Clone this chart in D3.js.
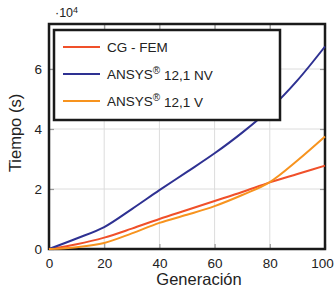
<!DOCTYPE html>
<html>
<head>
  <meta charset="utf-8">
  <script src="https://d3js.org/d3.v7.min.js"></script>
  <style>
    body { margin: 0; background: #fff; }
    text { font-family: "Liberation Sans", Arial, sans-serif; fill: #222; }
  </style>
</head>
<body>
<div id="Grafica"></div>
<script>
  // Datos (tiempo en unidades de 10^4 s)
  const generacion = [0, 10, 20, 30, 40, 50, 60, 70, 80, 90, 100];
  const cgFem   = [0, 0.16, 0.38, 0.68, 1.0, 1.3, 1.6, 1.9, 2.22, 2.5, 2.78];
  const ansysNV = [0, 0.35, 0.73, 1.33, 1.96, 2.57, 3.19, 3.88, 4.66, 5.62, 6.75];
  const ansysV  = [0, 0.06, 0.2, 0.52, 0.87, 1.14, 1.43, 1.8, 2.23, 2.95, 3.75];
  const xTicks = [0, 20, 40, 60, 80, 100];
  const yTicks = [0, 2, 4, 6];

  const series = [
    {name: "CG - FEM", values: cgFem, color: "#f0502a"},
    {name: "ANSYS", sup: "®", rest: " 12,1 NV", values: ansysNV, color: "#2e3192"},
    {name: "ANSYS", sup: "®", rest: " 12,1 V", values: ansysV, color: "#f7931e"}
  ];

  const W = 335, H = 289;
  const margin = {top: 24, right: 10, bottom: 40, left: 49};
  const width = 325 - margin.left;
  const height = 249 - margin.top;

  const x = d3.scaleLinear().domain([0, 100]).range([0, width]);
  const y = d3.scaleLinear().domain([0, 7.5]).range([height, 0]);

  const svg = d3.select("#Grafica").append("svg")
      .attr("width", W).attr("height", H)
      .append("g")
      .attr("transform", `translate(${margin.left}, ${margin.top})`);

  // Rejilla
  svg.append("g").selectAll("line").data(xTicks.slice(1, -1)).join("line")
      .attr("x1", d => x(d)).attr("x2", d => x(d))
      .attr("y1", 0).attr("y2", height)
      .attr("stroke", "#dcdcdc").attr("stroke-width", 1);
  svg.append("g").selectAll("line").data(yTicks.slice(1)).join("line")
      .attr("x1", 0).attr("x2", width)
      .attr("y1", d => y(d)).attr("y2", d => y(d))
      .attr("stroke", "#dcdcdc").attr("stroke-width", 1);

  // Ejes con marcas hacia dentro
  const xAxis = svg.append("g")
      .attr("transform", `translate(0, ${height})`)
      .call(d3.axisBottom(x).tickValues(xTicks).tickSize(-5).tickPadding(9));
  svg.append("g")
      .call(d3.axisLeft(y).tickValues(yTicks).tickSize(-5).tickPadding(7));
  svg.append("g").call(d3.axisTop(x).tickValues(xTicks).tickSize(-5).tickFormat(""));
  svg.append("g").attr("transform", `translate(${width}, 0)`)
      .call(d3.axisRight(y).tickValues(yTicks).tickSize(-5).tickFormat(""));
  svg.selectAll(".domain").remove();
  svg.selectAll(".tick line").attr("stroke", "#999").attr("stroke-width", 1.2);
  svg.selectAll(".tick text").style("font-size", "13.5px").attr("fill", "#222");
  // el "100" se pega al borde derecho
  xAxis.selectAll(".tick text").filter(d => d === 100).attr("dx", "-3");

  // Marco
  svg.append("rect")
      .attr("x", 0).attr("y", 0).attr("width", width).attr("height", height)
      .attr("fill", "none").attr("stroke", "#1a1a1a").attr("stroke-width", 2.5);

  // Lineas
  const line = d3.line()
      .x((d, i) => x(generacion[i]))
      .y(d => y(d))
      .curve(d3.curveMonotoneX);
  series.forEach(s => {
    svg.append("path").datum(s.values)
        .attr("fill", "none").attr("stroke", s.color)
        .attr("stroke-width", 2).attr("d", line);
  });

  // Leyenda
  const legend = svg.append("g").attr("transform", "translate(5, 6)");
  legend.append("rect")
      .attr("width", 226).attr("height", 90)
      .attr("fill", "#fff").attr("stroke", "#1a1a1a").attr("stroke-width", 2.5);
  series.forEach((s, i) => {
    const ly = 17 + i * 27;
    legend.append("line")
        .attr("x1", 9).attr("x2", 46).attr("y1", ly).attr("y2", ly)
        .attr("stroke", s.color).attr("stroke-width", 2);
    const t = legend.append("text")
        .attr("x", 53).attr("y", ly).attr("dy", "0.35em")
        .style("font-size", "13.5px").text(s.name);
    if (s.sup) {
      t.append("tspan").attr("dy", "-0.45em").style("font-size", "10px").text(s.sup);
      t.append("tspan").attr("dy", "0.45em").text(s.rest);
    }
  });

  // Titulos de ejes
  svg.append("text")
      .attr("x", 150).attr("y", 285 - margin.top)
      .attr("text-anchor", "middle").style("font-size", "16.5px")
      .text("Generación");
  svg.append("text")
      .attr("transform", `translate(-28, ${133 - margin.top}) rotate(-90)`)
      .attr("text-anchor", "middle").style("font-size", "16.5px")
      .text("Tiempo (s)");

  // Multiplicador
  const mult = svg.append("text").attr("x", 6).attr("y", -7)
      .style("font-size", "12.5px").text("·10");
  mult.append("tspan").attr("dy", "-0.45em").style("font-size", "9px").text("4");
</script>
</body>
</html>
